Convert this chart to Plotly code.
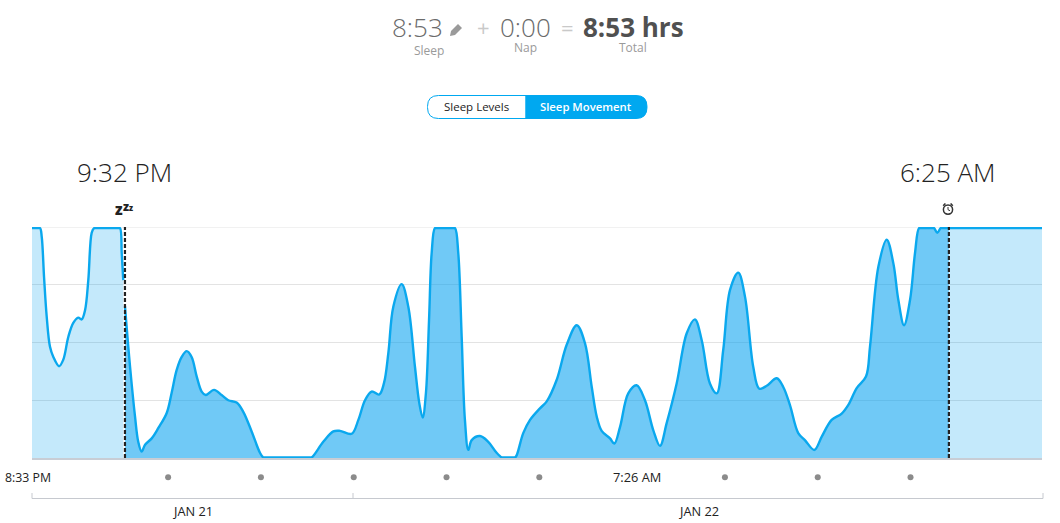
import plotly.graph_objects as go

# Movement level over the night, sampled by minutes since 8:33 PM
minutes = [0, 3.5, 5.2, 6.3, 7.8, 9.5, 11.6, 13.8, 17.5, 20.2, 23.5, 26.7, 29.9, 32.1, 34.3, 36.4, 38.6, 40.1, 41.5, 55.5, 56.9, 58.0, 59.0,
           60.1, 63.4, 66.6, 68.7, 70.9, 73.1, 77.4, 81.7, 87.1, 90.3, 93.5, 96.8, 100.0, 103.2, 106.5, 109.7, 112.3, 117.7,
           122.6, 126.9, 132.3, 136.6, 142.0, 147.4, 149.5, 151.0, 179.5, 180.8, 188.3, 194.8, 199.1, 206.7, 211.0, 215.3, 219.6, 224.5,
           227.6, 230.4, 233.6, 239.0, 243.3, 247.6, 250.4, 252.6, 254.7, 256.7, 258.4, 260.5, 262.0, 272.0, 273.5, 275.6, 277.8, 279.9,
           282.1, 284.3, 289.6, 295.0, 300.4, 303.7, 305.0, 311.0, 312.3, 313.4, 317.6, 322.0, 328.4, 332.8, 339.2, 345.7, 352.2, 357.5,
           361.9, 365.1, 368.3, 373.7, 376.5, 380.2, 385.5, 390.9, 396.3, 401.7, 406.0, 410.3, 416.8, 423.3, 428.6, 433.0,
           438.3, 442.7, 446.9, 451.3, 456.6, 461.0, 466.3, 470.2, 475.0, 481.5, 485.7, 490.0, 495.4, 499.7, 505.8, 510.6,
           517.0, 523.5, 527.8, 533.2, 539.2, 541.8, 547.2, 552.6, 556.9, 560.1, 563.8, 567.7, 570.9, 573.5, 575.0, 581.8, 583.2, 585.3,
           587.5, 589.0, 592.8, 593.2, 600.0, 653.0]
movement = [3.98, 3.98, 3.98, 3.83, 3.13, 2.45, 1.93, 1.75, 1.59, 1.70, 2.10, 2.34, 2.43, 2.40, 2.56, 3.08, 3.90, 3.98, 3.98, 3.98, 3.98, 3.55, 3.08,
            2.63, 1.58, 0.72, 0.28, 0.11, 0.23, 0.34, 0.52, 0.78, 1.13, 1.52, 1.75, 1.85, 1.75, 1.41, 1.15, 1.09, 1.18,
            1.09, 1.00, 0.96, 0.80, 0.46, 0.09, 0.01, 0.01, 0.01, 0.01, 0.28, 0.46, 0.47, 0.42, 0.66, 1.00, 1.15, 1.10,
            1.30, 1.82, 2.62, 3.01, 2.62, 1.58, 0.95, 0.70, 1.13, 2.39, 3.55, 3.98, 3.98, 3.98, 3.98, 3.55, 2.10, 0.66,
            0.14, 0.31, 0.38, 0.28, 0.09, 0.01, 0.01, 0.01, 0.01, 0.05, 0.43, 0.66, 0.86, 0.98, 1.35, 1.96, 2.30, 1.99,
            1.23, 0.72, 0.47, 0.34, 0.25, 0.54, 1.12, 1.26, 1.00, 0.48, 0.21, 0.60, 1.29, 2.16, 2.40, 2.04,
            1.29, 1.12, 1.87, 2.91, 3.21, 2.79, 1.58, 1.20, 1.25, 1.38, 1.23, 0.92, 0.43, 0.31, 0.14, 0.37,
            0.66, 0.77, 0.92, 1.21, 1.41, 1.93, 3.31, 3.78, 3.37, 2.74, 2.30, 2.74, 3.55, 3.98, 3.98, 3.98, 3.98, 3.90,
            3.98, 3.98, 3.98, 3.98, 3.98, 3.98]

sleep_start = 60.1
sleep_end = 592.8
hour_dots = [88, 148, 208, 268, 328, 448, 508, 568]
date_labels = ["JAN 21", "JAN 22"]

# Plot rectangle inside the 1060x523 page; a thin strip under the chart holds the hour dots
LEFT, RIGHT, TOP, BOTTOM, STRIP = 32, 1042, 227, 458, 490
FONT = "Open Sans"
BLUE = "#0aa8ee"
INK = "#222222"


def px(x):
    return (x - LEFT) / (RIGHT - LEFT)


def py(y):
    return (STRIP - y) / (STRIP - TOP)


def segment(keep, fill):
    xs = [m for m in minutes if keep(m)]
    ys = [v for m, v in zip(minutes, movement) if keep(m)]
    return go.Scatter(x=xs, y=ys, mode="lines", fill="tozeroy", fillcolor=fill,
                      line=dict(color=BLUE, width=2.4, shape="spline", smoothing=1.0),
                      hoverinfo="skip", showlegend=False)


fig = go.Figure()
fig.add_trace(segment(lambda m: m < sleep_start, "rgba(0,159,239,0.23)"))
fig.add_trace(segment(lambda m: sleep_start <= m <= sleep_end, "rgba(0,159,239,0.56)"))
fig.add_trace(segment(lambda m: m > sleep_end, "rgba(0,159,239,0.23)"))
fig.add_trace(go.Scatter(x=hour_dots, y=[0.4] * len(hour_dots), yaxis="y2", mode="markers",
                         marker=dict(color="#8b8b8b", size=6), hoverinfo="skip", showlegend=False))


def text(s, x, y, size, color=INK, weight=400):
    fig.add_annotation(text=s, x=px(x), y=py(y), xref="paper", yref="paper", showarrow=False,
                       xanchor="center", yanchor="middle", borderpad=0,
                       font=dict(family=FONT, size=size, color=color, weight=weight))


def paper_line(x0, y0, x1, y1, color, width=1):
    fig.add_shape(type="line", xref="paper", yref="paper", x0=px(x0), y0=py(y0), x1=px(x1), y1=py(y1),
                  line=dict(color=color, width=width))


def pill(x0, x1, y0, y1, r, left_round, right_round, fill, edge):
    lc = f"Q {px(x0)} {py(y0)} {px(x0 + r)} {py(y0)}" if left_round else f"L {px(x0)} {py(y0)}"
    rc_top = f"Q {px(x1)} {py(y0)} {px(x1)} {py(y0 + r)}" if right_round else f"L {px(x1)} {py(y0)}"
    rc_bot = f"Q {px(x1)} {py(y1)} {px(x1 - r)} {py(y1)}" if right_round else f"L {px(x1)} {py(y1)}"
    lc_bot = f"Q {px(x0)} {py(y1)} {px(x0)} {py(y1 - r)}" if left_round else f"L {px(x0)} {py(y1)}"
    start = f"M {px(x0)} {py(y0 + r)}" if left_round else f"M {px(x0)} {py(y0)}"
    top_to = f"L {px(x1 - r)} {py(y0)}" if right_round else ""
    bot_to = f"L {px(x0 + r)} {py(y1)}" if left_round else ""
    path = " ".join([start, lc, top_to, rc_top, f"L {px(x1)} {py(y1 - r)}" if right_round else "",
                     rc_bot, bot_to, lc_bot, "Z"])
    fig.add_shape(type="path", path=path, xref="paper", yref="paper", fillcolor=fill,
                  line=dict(color=edge, width=1))


# Summary row
text("8:53", 417, 26.5, 26, "#6b6b6b", 300)
text("Sleep", 429, 50.7, 12, "#9a9a9a")
text("+", 483, 27, 22, "#c9c9c9")
text("0:00", 525.5, 26.5, 26, "#6b6b6b", 300)
text("Nap", 525, 47.7, 12, "#9a9a9a")
text("=", 567, 27, 22, "#c9c9c9")
text("8:53 hrs", 633.5, 26.5, 26, "#505050", 700)
text("Total", 633, 47.7, 12, "#9a9a9a")
# Pencil glyph beside the sleep total
fig.add_shape(type="path", xref="paper", yref="paper", fillcolor="#9a9a9a", line=dict(width=0),
              path=f"M {px(450)} {py(36)} L {px(451)} {py(31)} L {px(458)} {py(24)} L {px(462)} {py(28)} "
                   f"L {px(455)} {py(35)} Z")

# Toggle between the two views
pill(427.5, 526, 95.5, 118.5, 11, True, False, "#ffffff", "#00a8f0")
pill(526, 647, 95.5, 118.5, 11, False, True, "#00a8f0", "#00a8f0")
text("Sleep Levels", 476.5, 106.5, 11.5, INK)
text("Sleep Movement", 586, 106.5, 11.3, "#ffffff", 600)

# Bedtime and wake-time markers
text("9:32 PM", 124, 172, 26, INK, 300)
text("6:25 AM", 948, 172, 26, INK, 300)
text("z", 118.5, 209.5, 15, INK, 800)
text("z", 125.5, 206, 12, INK, 800)
text("z", 130.8, 208, 8, INK, 800)
for t in (sleep_start, sleep_end):
    fig.add_shape(type="line", xref="x", yref="y", x0=t, x1=t, y0=0, y1=4,
                  line=dict(color=INK, width=2.2, dash="4px,2px"))
fig.add_shape(type="line", xref="x", yref="y", x0=0, x1=653, y0=4, y1=4, layer="below",
              line=dict(color="#e3e3e3", width=1))

# Alarm clock glyph above the wake-time marker
fig.add_shape(type="circle", xref="paper", yref="paper", x0=px(943.4), x1=px(952.6), y0=py(214.2), y1=py(205),
              line=dict(color="#333333", width=1.5))
paper_line(943.2, 205.8, 945.4, 203.5, "#333333", 1.6)
paper_line(950.6, 203.5, 952.8, 205.8, "#333333", 1.6)
paper_line(948, 207, 948, 209.7, "#333333", 1)
paper_line(948, 209.7, 950, 210.7, "#333333", 1)

# Time and date labels under the plot
text("8:33 PM", 28, 477, 12.3, INK)
text("7:26 AM", 636.5, 477, 12.8, INK)
text(date_labels[0], 192, 511, 12.8, INK)
text(date_labels[1], 698, 511, 12.8, INK)
paper_line(32, 498.5, 1043, 498.5, "#c6c9cf")
paper_line(32, 493, 32, 498.5, "#c6c9cf")
paper_line(353, 493, 353, 498.5, "#c6c9cf")
paper_line(1043, 493, 1043, 498.5, "#c6c9cf")

split = (STRIP - BOTTOM) / (STRIP - TOP)
fig.update_layout(
    width=1060, height=523, paper_bgcolor="white", plot_bgcolor="white",
    margin=dict(l=LEFT, r=1060 - RIGHT, t=TOP, b=523 - STRIP),
    xaxis=dict(range=[0, 653], showgrid=False, zeroline=False, showticklabels=False, ticks="",
               showline=True, linecolor="#c8cdd5", linewidth=2, anchor="y"),
    yaxis=dict(domain=[split, 1], range=[0, 4], dtick=1, showgrid=True, gridcolor="#e3e3e3", gridwidth=1,
               zeroline=False, showticklabels=False, ticks=""),
    yaxis2=dict(domain=[0, split], range=[0, 1], visible=False),
)

fig.write_html("out.html")
